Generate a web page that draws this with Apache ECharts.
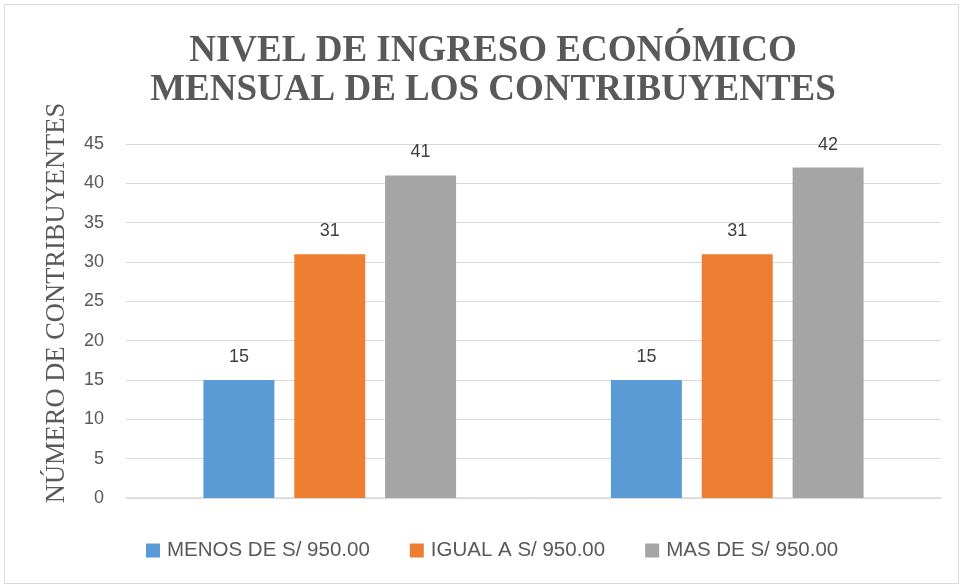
<!DOCTYPE html>
<html><head><meta charset="utf-8">
<script src="https://cdn.jsdelivr.net/npm/echarts@6/dist/echarts.min.js"></script>
<style>html,body{margin:0;padding:0;background:#fff}#c{width:963px;height:588px}</style>
</head><body><div id="c"></div>
<script>
var categories = ['1', '2'];
var seriesNames = ['MENOS DE S/ 950.00', 'IGUAL A S/ 950.00', 'MAS DE S/ 950.00'];
var menos = [15, 15];
var igual = [31, 31];
var mas = [41, 42];
var yAxisTitle = 'NÚMERO DE CONTRIBUYENTES';
var chartTitle = 'NIVEL DE INGRESO ECONÓMICO\nMENSUAL DE LOS CONTRIBUYENTES';
var colors = ['#5B9BD5', '#ED7D31', '#A5A5A5'];

var chart = echarts.init(document.getElementById('c'));
var vals = [menos, igual, mas];
var series = vals.map(function (v, i) {
  return {
    name: seriesNames[i], type: 'bar', data: v,
    itemStyle: { color: colors[i] },
    barGap: '28%', barCategoryGap: '38%',
    label: { show: true, position: 'top', distance: 14, color: '#404040', fontSize: 18, fontFamily: 'Liberation Sans' }
  };
});
chart.setOption({
  animation: false,
  title: {
    text: chartTitle,
    left: 488, top: 27, textAlign: 'center',
    textStyle: { fontFamily: 'Liberation Serif', fontWeight: 'bold', fontSize: 37, color: '#595959', lineHeight: 39 }
  },
  legend: {
    top: 535, left: 141, itemWidth: 14, itemHeight: 14, itemGap: 40, icon: 'rect',
    textStyle: { fontFamily: 'Liberation Sans', fontSize: 20.5, color: '#595959', padding: [0, 0, 0, 2] }
  },
  grid: { left: 126, right: 22, top: 144, bottom: 90, containLabel: false },
  xAxis: {
    type: 'category', data: categories,
    axisLine: { lineStyle: { color: '#d9d9d9', width: 1.5 } },
    axisTick: { show: false }, axisLabel: { show: false }
  },
  yAxis: {
    type: 'value', min: 0, max: 45, interval: 5,
    axisLabel: { fontFamily: 'Liberation Sans', fontSize: 18, color: '#595959', margin: 22 },
    splitLine: { lineStyle: { color: '#d9d9d9', width: 1 } },
    axisLine: { show: false }, axisTick: { show: false }
  },
  graphic: [
    { type: 'rect', shape: { x: 4.5, y: 4.5, width: 954, height: 579 }, style: { fill: 'none', stroke: '#d9d9d9', lineWidth: 1 }, silent: true },
    { type: 'text', x: 57, y: 303, rotation: Math.PI / 2, silent: true,
      style: { text: yAxisTitle, fontFamily: 'Liberation Serif', fontSize: 26.5, fill: '#595959', align: 'center', verticalAlign: 'middle' } }
  ],
  series: series
});
</script></body></html>
